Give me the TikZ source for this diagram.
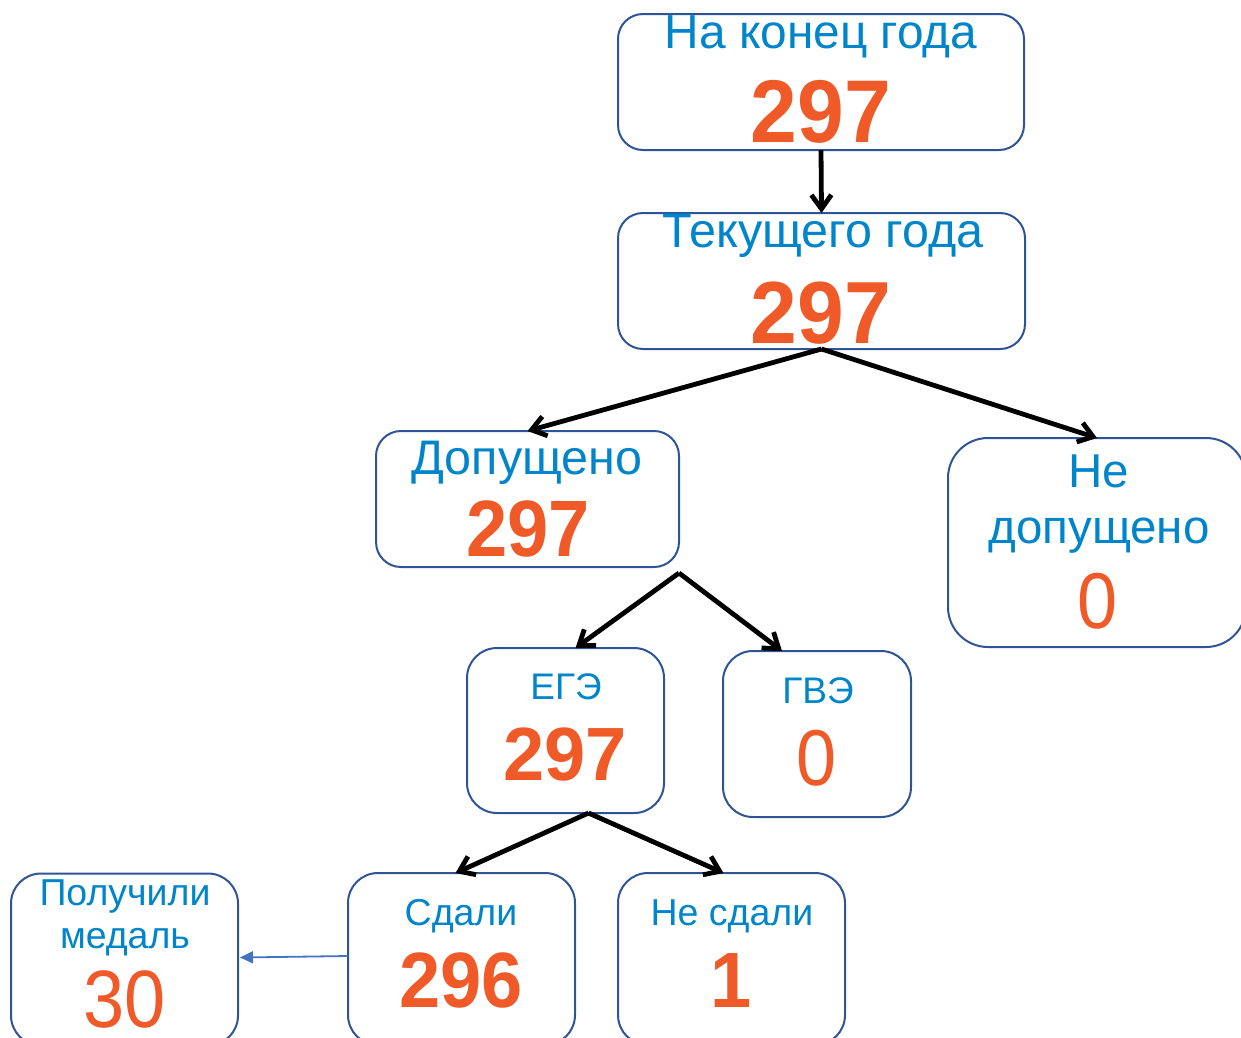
\documentclass[tikz,border=0pt]{standalone}
\usepackage{fontspec}
\usepackage{graphicx}
\setmainfont{Liberation Sans}
\usetikzlibrary{arrows.meta,calc}
\definecolor{boxblue}{RGB}{47,84,150}
\definecolor{txtblue}{RGB}{0,133,202}
\definecolor{numor}{RGB}{240,90,40}
\definecolor{linkblue}{RGB}{68,114,196}
\newcommand\ysc[2]{\scalebox{1}[#1]{#2}}
\begin{document}
\begin{tikzpicture}[x=1pt,y=-1pt,
  box/.style={draw=boxblue,line width=2pt,rounded corners=#1,inner sep=0pt,outer sep=0pt},
  box/.default=25pt,
  lbl/.style={text=txtblue,inner sep=0pt,anchor=base,font=\fontsize{#1}{#1}\selectfont},
  num/.style={text=numor,inner sep=0pt,anchor=base,font=\fontsize{#1}{#1}\selectfont\bfseries},
  numr/.style={text=numor,inner sep=0pt,anchor=base,font=\fontsize{#1}{#1}\selectfont},
  arr/.style={draw=black,line width=4.8pt,-{Straight Barb[length=14pt,width=20pt]}},
  barr/.style={draw=linkblue,line width=1.8pt,-{Triangle[length=13pt,width=12pt]}}
]
\useasboundingbox (0,0) rectangle (1241,1037);

% boxes
\node[box, minimum width=406pt, minimum height=136pt] (top) at (821,82) {};
\node[box, minimum width=407pt, minimum height=136pt] (cur) at (821.5,281) {};
\node[box, minimum width=303pt, minimum height=136pt] (dop) at (527.5,499) {};
\node[box=40pt, minimum width=298pt, minimum height=209pt] (nedop) at (1097,542.5) {};
\node[box=30pt, minimum width=197pt, minimum height=165pt] (ege) at (565.5,730.5) {};
\node[box=30pt, minimum width=188pt, minimum height=166pt] (gve) at (817,734) {};
\node[box=30pt, minimum width=227pt, minimum height=172pt] (medal) at (124.5,959.5) {};
\node[box=30pt, minimum width=227pt, minimum height=172pt] (sdali) at (461.5,959) {};
\node[box=30pt, minimum width=227pt, minimum height=172pt] (nesdali) at (731.5,959) {};

% texts
\node[lbl=47.8] (t1) at (821,48) {На конец года};
\node[num=84] (n1) at (821,142) {\ysc{1.06}{297}};
\node[lbl=48.5] (t2) at (823,247) {Текущего года};
\node[num=84] (n2) at (821,343) {\ysc{1.05}{297}};
\node[lbl=48.5] (t3) at (527,474) {Допущено};
\node[num=74] (n3) at (528,556) {\ysc{1.08}{297}};
\node[lbl=47.5] (t4a) at (1099,487) {Не};
\node[lbl=47.5] (t4b) at (1099,543) {допущено};
\node[numr=72] (n4) at (1098,628) {\ysc{1.1}{0}};
\node[lbl=37] (t5) at (566,699) {ЕГЭ};
\node[num=74] (n5) at (565,780) {\ysc{1.02}{297}};
\node[lbl=37] (t6) at (818,703) {ГВЭ};
\node[numr=72] (n6) at (817,785) {\ysc{1.1}{0}};
\node[lbl=37.5] (t7a) at (125,905) {Получили};
\node[lbl=37.5] (t7b) at (125,948) {медаль};
\node[numr=74] (n7) at (125,1027) {\ysc{1.1}{30}};
\node[lbl=37.5] (t8) at (461,925) {Сдали};
\node[num=74] (n8) at (461,1007) {\ysc{1.06}{296}};
\node[lbl=37.5] (t9) at (732,925) {Не сдали};
\node[num=74] (n9) at (731,1007) {\ysc{1.06}{1}};

% connectors
\coordinate (dopfork) at ($(dop.south east)+(0,6)$);
\coordinate (egefork) at ($(ege.south)+(23,0)$);
\draw[arr] (top.south) -- (cur.north);
\draw[arr] (cur.south) -- (dop.north);
\draw[arr] (cur.south) -- (nedop.north);
\draw[arr] (dopfork) -- ($(ege.north)+(10,0)$);
\draw[arr] (dopfork) -- ($(gve.north)+(-35,0)$);
\draw[arr] (egefork) -- ($(sdali.north)+(-6,0)$);
\draw[arr] (egefork) -- ($(nesdali.north)+(-8,0)$);
\draw[barr] ($(sdali.west)+(0,-3)$) -- ($(medal.east)+(2,-2)$);
\end{tikzpicture}
\end{document}
